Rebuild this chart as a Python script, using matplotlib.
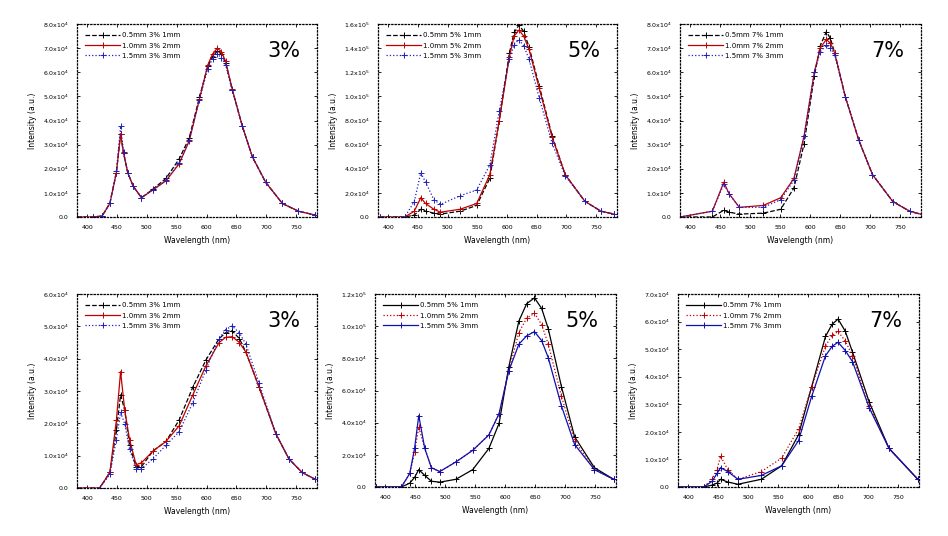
import matplotlib
matplotlib.use("Agg")
import matplotlib.pyplot as plt

# wavelength grids (nm) and intensities (x10^4 counts)
wl1 = [383, 410, 425, 438, 449, 456, 461, 468, 477, 491, 510, 532, 554, 571, 588, 602, 610, 618, 625, 632, 643, 660, 677, 699, 727, 754, 782]
p1_black = [0, 0, 0.04, 0.56, 1.84, 3.44, 2.64, 1.84, 1.28, 0.80, 1.15, 1.60, 2.40, 3.28, 4.96, 6.24, 6.65, 6.88, 6.75, 6.40, 5.28, 3.76, 2.48, 1.44, 0.56, 0.24, 0.08]
p1_red = [0, 0, 0.04, 0.56, 1.84, 3.44, 2.64, 1.84, 1.28, 0.80, 1.12, 1.50, 2.20, 3.15, 4.88, 6.30, 6.75, 7.00, 6.85, 6.45, 5.30, 3.76, 2.48, 1.44, 0.56, 0.24, 0.08]
p1_blue = [0, 0, 0.04, 0.56, 1.90, 3.76, 2.70, 1.84, 1.28, 0.80, 1.12, 1.52, 2.24, 3.20, 4.85, 6.15, 6.55, 6.76, 6.60, 6.30, 5.25, 3.76, 2.48, 1.44, 0.56, 0.24, 0.08]

wl2 = [386, 428, 444, 455, 463, 477, 488, 521, 549, 571, 587, 604, 612, 620, 628, 637, 654, 676, 698, 731, 758, 780]
p2_black = [0, 0, 0.16, 0.64, 0.48, 0.32, 0.24, 0.48, 0.96, 3.2, 8.0, 13.6, 15.3, 15.9, 15.4, 14.1, 10.9, 6.7, 3.5, 1.3, 0.48, 0.24]
p2_red = [0, 0, 0.48, 1.6, 1.12, 0.64, 0.4, 0.64, 1.12, 3.5, 8.0, 13.3, 15.0, 15.5, 15.0, 13.9, 10.7, 6.6, 3.5, 1.3, 0.48, 0.24]
p2_blue = [0, 0, 1.28, 3.68, 2.88, 1.44, 1.04, 1.76, 2.24, 4.3, 8.8, 13.1, 14.3, 14.7, 14.2, 13.1, 9.9, 6.1, 3.4, 1.3, 0.48, 0.24]

wl3 = [383, 437, 456, 465, 482, 522, 551, 573, 590, 607, 617, 627, 634, 641, 659, 681, 704, 738, 766, 790]
p3_black = [0, 0, 0.28, 0.2, 0.12, 0.16, 0.32, 1.2, 3.04, 5.84, 7.1, 7.68, 7.4, 6.8, 4.96, 3.2, 1.76, 0.64, 0.24, 0.08]
p3_red = [0, 0.24, 1.44, 0.96, 0.4, 0.48, 0.8, 1.6, 3.36, 6.0, 7.0, 7.36, 7.2, 6.8, 4.96, 3.2, 1.76, 0.64, 0.24, 0.08]
p3_blue = [0, 0.24, 1.36, 0.96, 0.4, 0.4, 0.72, 1.52, 3.36, 6.0, 6.85, 7.12, 7.0, 6.72, 4.96, 3.2, 1.76, 0.64, 0.24, 0.08]

wl4 = [383, 421, 438, 449, 456, 463, 471, 482, 491, 510, 532, 554, 577, 599, 621, 632, 643, 655, 666, 688, 716, 738, 760, 782]
p4_black = [0, 0, 0.48, 1.8, 2.88, 2.4, 1.32, 0.66, 0.66, 1.14, 1.44, 2.1, 3.12, 3.96, 4.62, 4.8, 4.86, 4.62, 4.2, 3.12, 1.68, 0.9, 0.48, 0.27]
p4_red = [0, 0, 0.48, 2.1, 3.6, 2.4, 1.5, 0.72, 0.78, 1.14, 1.44, 1.92, 2.88, 3.78, 4.5, 4.66, 4.68, 4.5, 4.2, 3.12, 1.68, 0.9, 0.48, 0.27]
p4_blue = [0, 0, 0.42, 1.5, 2.34, 1.98, 1.2, 0.6, 0.6, 0.9, 1.32, 1.74, 2.64, 3.66, 4.62, 4.9, 5.01, 4.8, 4.44, 3.24, 1.68, 0.9, 0.48, 0.27]

wl5 = [384, 427, 441, 449, 456, 466, 477, 491, 518, 546, 573, 590, 606, 623, 636, 649, 661, 672, 694, 716, 749, 781]
p5_black = [0, 0, 0.24, 0.6, 1.08, 0.72, 0.36, 0.3, 0.48, 1.08, 2.4, 3.96, 7.44, 10.32, 11.4, 11.76, 11.1, 9.84, 6.24, 3.12, 1.2, 0.48]
p5_red = [0, 0, 0.84, 2.16, 3.72, 2.4, 1.2, 0.96, 1.56, 2.28, 3.24, 4.56, 7.2, 9.6, 10.5, 10.8, 10.1, 8.88, 5.64, 2.88, 1.08, 0.48]
p5_blue = [0, 0, 0.84, 2.4, 4.44, 2.4, 1.2, 0.96, 1.56, 2.28, 3.24, 4.56, 7.2, 8.88, 9.4, 9.66, 9.1, 8.04, 5.04, 2.64, 1.08, 0.48]

wl6 = [383, 426, 440, 448, 454, 466, 483, 522, 556, 584, 606, 629, 640, 650, 662, 674, 702, 735, 783]
p6_black = [0, 0, 0.07, 0.14, 0.28, 0.18, 0.1, 0.28, 0.77, 1.89, 3.64, 5.46, 5.9, 6.09, 5.65, 4.9, 3.08, 1.4, 0.28]
p6_red = [0, 0, 0.28, 0.63, 1.12, 0.63, 0.28, 0.56, 1.05, 2.1, 3.64, 5.11, 5.5, 5.64, 5.3, 4.76, 2.94, 1.4, 0.28]
p6_blue = [0, 0, 0.21, 0.49, 0.7, 0.56, 0.28, 0.42, 0.77, 1.68, 3.29, 4.76, 5.1, 5.25, 4.95, 4.55, 2.87, 1.4, 0.28]

titles = ["3%", "5%", "7%", "3%", "5%", "7%"]
labels1 = ["0.5mm 3% 1mm", "1.0mm 3% 2mm", "1.5mm 3% 3mm"]
labels2 = ["0.5mm 5% 1mm", "1.0mm 5% 2mm", "1.5mm 5% 3mm"]
labels3 = ["0.5mm 7% 1mm", "1.0mm 7% 2mm", "1.5mm 7% 3mm"]
xticks = [400, 450, 500, 550, 600, 650, 700, 750]
ymax = [8, 16, 8, 6, 12, 7]
ystep = [1, 2, 1, 1, 2, 1]

panels = [
    (wl1, p1_black, p1_red, p1_blue, labels1),
    (wl2, p2_black, p2_red, p2_blue, labels2),
    (wl3, p3_black, p3_red, p3_blue, labels3),
    (wl4, p4_black, p4_red, p4_blue, labels1),
    (wl5, p5_black, p5_red, p5_blue, labels2),
    (wl6, p6_black, p6_red, p6_blue, labels3),
]
# line styles: top row + bottom-left one style, bottom middle/right another
styles_a = [("k", "--"), ("#c00000", "-"), ("#2020c0", ":")]
styles_b = [("k", "-"), ("#c00000", ":"), ("#1010b0", "-")]

# axes boxes in pixels: left, right, top, bottom
boxes = [(77, 317, 24, 217), (378, 617, 24, 217), (680, 921, 24, 217),
         (77, 317, 294, 488), (375, 616, 294, 487), (678, 919, 294, 487)]

W, H = 948, 536
fig = plt.figure(figsize=(W / 100, H / 100), dpi=100)


def fmt(v):
    if v == 0:
        return "0.0"
    e = 4
    m = v
    while m >= 10:
        m /= 10
        e += 1
    return r"%.1fx10$^{%d}$" % (m, e)


for i, (wl, yb, yr, yu, labs) in enumerate(panels):
    l, r, t, b = boxes[i]
    ax = fig.add_axes([l / W, 1 - b / H, (r - l) / W, (b - t) / H])
    st = styles_a if i < 4 else styles_b
    for y, (c, ls), lab in zip([yb, yr, yu], st, labs):
        ax.plot(wl, y, color=c, ls=ls, lw=0.9, marker="+", ms=4, mew=0.7, label=lab)
    ax.set_xlim(383, 785)
    ax.set_ylim(0, ymax[i])
    ax.set_xticks(xticks)
    ax.set_xticklabels([str(x) for x in xticks])
    yt = list(range(0, ymax[i] + 1, ystep[i]))
    ax.set_yticks(yt)
    ax.set_yticklabels([fmt(v) for v in yt])
    ax.tick_params(labelsize=4.5, length=2, width=0.6, direction="in", top=True, right=True, pad=6)
    for s in ax.spines.values():
        s.set_linestyle(":")
        s.set_linewidth(0.9)
    ax.set_xlabel("Wavelength (nm)", fontsize=5.5, labelpad=4)
    ax.set_ylabel("Intensity (a.u.)", fontsize=5.5, labelpad=4)
    ax.text(0.86, 0.86, titles[i], transform=ax.transAxes, fontsize=15,
            ha="center", va="center")
    ax.legend(loc="upper left", fontsize=5, frameon=False, handlelength=5,
              handletextpad=0.3, labelspacing=0.6, borderaxespad=0.8)

fig.savefig("out.png", dpi=100)
